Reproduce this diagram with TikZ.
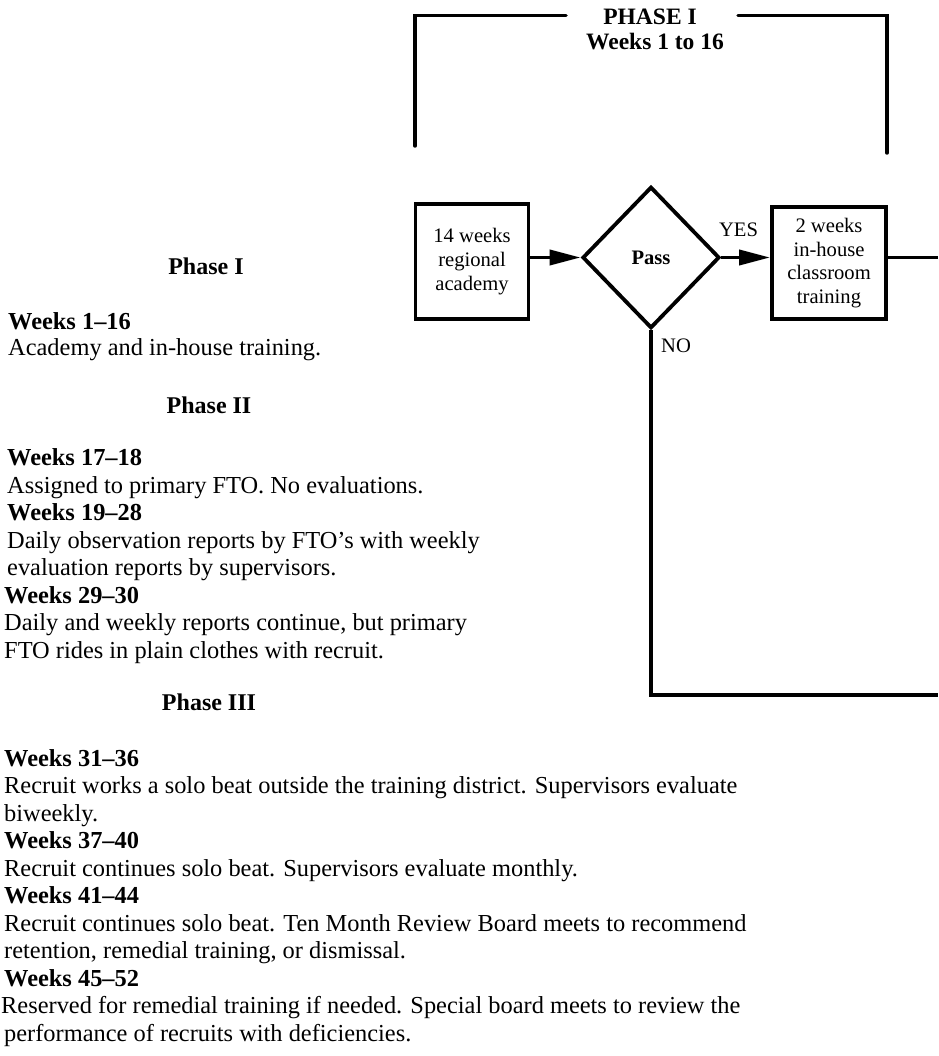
\documentclass[tikz,border=0pt]{standalone}
\usepackage{fontspec}
\setmainfont{Liberation Serif}
\usetikzlibrary{arrows.meta,shapes.geometric}
\tikzset{
  body/.style={anchor=base west,inner sep=0pt,font=\fontsize{24.4}{27.5}\selectfont},
  bodyhead/.style={anchor=base west,inner sep=0pt,font=\bfseries\fontsize{24.4}{27.5}\selectfont},
  phasehead/.style={anchor=base,inner sep=0pt,font=\bfseries\fontsize{24}{27}\selectfont},
  stagebox/.style={draw,line width=3.8pt,align=center,inner sep=0pt,
    font=\fontsize{20.6}{23.6}\selectfont},
  decide/.style={draw,diamond,line width=3.8pt,inner sep=0pt,
    minimum width=137pt,minimum height=141.5pt,font=\bfseries\fontsize{20.6}{23.6}\selectfont},
  conn/.style={line width=3.8pt},
  arr/.style={line width=3.8pt,-{Triangle[length=31pt,width=15pt]}},
  lbl/.style={inner sep=0pt,font=\fontsize{20.6}{23.6}\selectfont},
  brk/.style={line width=3.5pt,line cap=round},
  hdr/.style={inner sep=0pt,anchor=base,font=\bfseries\fontsize{23.5}{25}\selectfont}
}
\begin{document}
\begin{tikzpicture}[x=1pt,y=-1pt]
\useasboundingbox (0,0) rectangle (938,1056);

% header bracket
\node[hdr] (hd1) at (650,25) {PHASE I};
\node[hdr] (hd2) at (655,50) {Weeks 1 to 16};
\coordinate (bl) at (415,146);
\coordinate (bla) at (566,15.5);
\coordinate (bra) at (738,15.5);
\coordinate (br) at (887,153);
\draw[brk] (bl) |- (bla);
\draw[brk] (bra) -| (br);

% flow
\node[stagebox,minimum width=113pt,minimum height=115pt] (acad) at (472,261.5) {14 weeks\\regional\\academy};
\node[decide] (pass) at (651,257.5) {Pass};
\node[stagebox,minimum width=114pt,minimum height=112pt] (house) at (829,263) {2 weeks\\in-house\\classroom\\training};
\coordinate (outA) at (938,257.5);
\coordinate (outB) at (938,695);
\draw[arr] (acad.east |- pass.west) -- (pass.west);
\draw[arr] (pass.east) -- (house.west |- pass.east);
\draw[conn] (house.east |- outA) -- (outA);
\draw[conn] (pass.south) |- (outB);
\node[lbl,anchor=base] (yes) at (738.5,237) {YES};
\node[lbl,anchor=base west] (no) at (661,352) {NO};

% left text
\node[phasehead] (p1) at (206,275) {Phase I};
\node[bodyhead] (w1) at (8,329) {Weeks 1\textendash 16};
\node[body] (d1) at (8,355) {Academy and in-house training.};
\node[phasehead] (p2) at (209,413) {Phase II};
\node[bodyhead] (w2) at (7,465) {Weeks 17\textendash 18};
\node[body] (d2) at (7,493) {Assigned to primary FTO. No evaluations.};
\node[bodyhead] (w3) at (7,520) {Weeks 19\textendash 28};
\node[body] (d3a) at (7,548) {Daily observation reports by FTO’s with weekly};
\node[body] (d3b) at (7,575) {evaluation reports by supervisors.};
\node[bodyhead] (w4) at (4,603) {Weeks 29\textendash 30};
\node[body] (d4a) at (4,630.5) {Daily and weekly reports continue, but primary};
\node[body] (d4b) at (4,658) {FTO rides in plain clothes with recruit.};
\node[phasehead] (p3) at (209,710) {Phase III};
\node[bodyhead] (w5) at (4,766) {Weeks 31\textendash 36};
\node[body] (d5a) at (4,793.5) {Recruit works a solo beat outside the training district. Supervisors evaluate};
\node[body] (d5b) at (4,821) {biweekly.};
\node[bodyhead] (w6) at (4,848.5) {Weeks 37\textendash 40};
\node[body] (d6) at (4,876) {Recruit continues solo beat. Supervisors evaluate monthly.};
\node[bodyhead] (w7) at (4,903.5) {Weeks 41\textendash 44};
\node[body] (d7a) at (4,931) {Recruit continues solo beat. Ten Month Review Board meets to recommend};
\node[body] (d7b) at (4,958.5) {retention, remedial training, or dismissal.};
\node[bodyhead] (w8) at (4,986) {Weeks 45\textendash 52};
\node[body] (d8a) at (1,1013.5) {Reserved for remedial training if needed. Special board meets to review the};
\node[body] (d8b) at (4,1041) {performance of recruits with deficiencies.};
\end{tikzpicture}
\end{document}
